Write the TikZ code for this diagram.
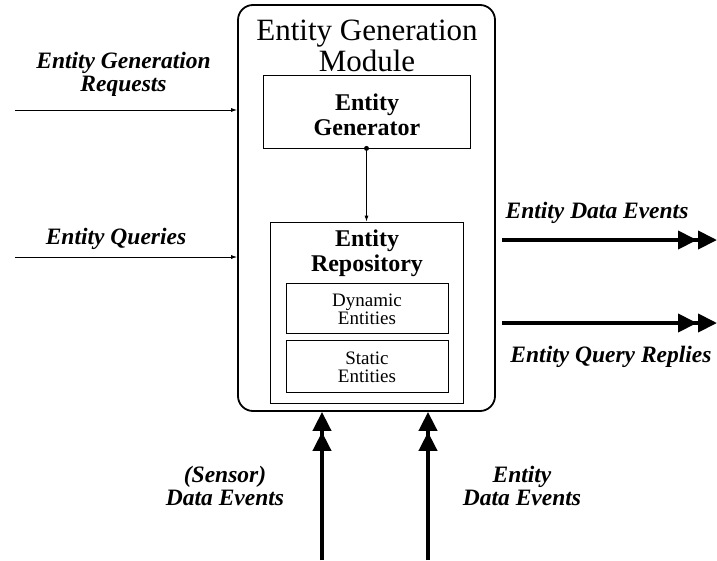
\documentclass[tikz,border=0pt]{standalone}
\usepackage{fontspec}
\setmainfont{Liberation Serif}
\usetikzlibrary{arrows.meta}
\begin{document}
\begin{tikzpicture}[x=1pt,y=-1pt,
  box/.style={draw, line width=0.8pt, inner sep=0pt},
  lbl/.style={font=\fontsize{23.5}{23}\selectfont\bfseries\itshape, align=center, inner sep=0pt},
  boxlbl/.style={font=\fontsize{24}{25}\selectfont\bfseries, align=center, inner sep=0pt},
  small/.style={font=\fontsize{19}{18}\selectfont, align=center, inner sep=0pt},
  thin/.style={line width=0.8pt, -{Latex[length=6pt,width=4pt]}},
  thick/.style={line width=4pt, -{Triangle[length=19pt,width=18pt,sep=1pt]Triangle[length=19pt,width=18pt]}}
]
\useasboundingbox (0,0) rectangle (717,560);
\node[draw, line width=1.8pt, rounded corners=15pt, minimum width=257pt, minimum height=406pt, inner sep=0pt] (outer) at (366.5,208) {};
\node[font=\fontsize{31}{31}\selectfont, align=center, inner sep=0pt] (title) at (367,46) {Entity Generation\\Module};
\node[box, minimum width=207pt, minimum height=73pt] (gen) at (366.5,111.5) {};
\node[boxlbl] (gentxt) at (367,115) {Entity\\Generator};
\node[box, minimum width=193pt, minimum height=181pt] (repo) at (366.5,312.5) {};
\node[boxlbl] (repotxt) at (367,253) {Entity\\Repository};
\node[box, minimum width=162pt, minimum height=50pt] (dyn) at (367,308) {};
\node[small] (dyntxt) at (367,309) {Dynamic\\Entities};
\node[box, minimum width=162pt, minimum height=52pt] (stat) at (367,366) {};
\node[small] (stattxt) at (367,367) {Static\\Entities};
\fill (gen.south) circle (2.5pt);
\draw[thin] (gen.south) -- (repo.north);
% left inputs
\coordinate (reqL) at (15,110);
\coordinate (qryL) at (15,257);
\draw[thin] (reqL) -- (reqL -| outer.west);
\draw[thin] (qryL) -- (qryL -| outer.west);
\node[lbl] (reqtxt) at (123.5,74) {Entity Generation\\Requests};
\node[lbl] (qrytxt) at (116,239) {Entity Queries};
% right outputs
\coordinate (deS) at (502,240);
\coordinate (deE) at (717,240);
\coordinate (qrS) at (502,323);
\coordinate (qrE) at (717,323);
\draw[thick] (deS) -- (deE);
\draw[thick] (qrS) -- (qrE);
\node[lbl] (detxt) at (597,213) {Entity Data Events};
\node[lbl] (qrtxt) at (611,357) {Entity Query Replies};
% bottom inputs
\coordinate (sB) at (322,560);
\coordinate (eB) at (428,560);
\draw[thick] (sB) -- (sB |- outer.south);
\draw[thick] (eB) -- (eB |- outer.south);
\node[lbl] (stxt) at (225,486) {(Sensor)\\Data Events};
\node[lbl] (etxt) at (522,486) {Entity\\Data Events};
\end{tikzpicture}
\end{document}
